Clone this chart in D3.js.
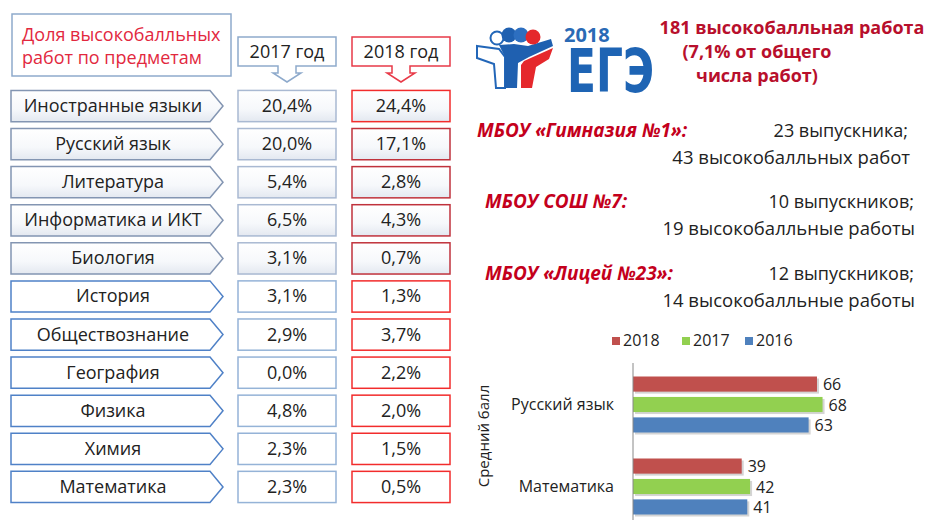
<!DOCTYPE html>
<html>
<head>
<meta charset="utf-8">
<script src="https://cdn.jsdelivr.net/npm/d3@7"></script>
<style>
  body { margin: 0; background: #fff; }
  svg { display: block; font-family: "Open Sans", sans-serif; }
</style>
</head>
<body>
<div id="chart"></div>
<script>
// Доля высокобалльных работ по предметам
const subjects = ["Иностранные языки", "Русский язык", "Литература", "Информатика и ИКТ", "Биология",
  "История", "Обществознание", "География", "Физика", "Химия", "Математика"];
const share2017 = [20.4, 20.0, 5.4, 6.5, 3.1, 3.1, 2.9, 0.0, 4.8, 2.3, 2.3];
const share2018 = [24.4, 17.1, 2.8, 4.3, 0.7, 1.3, 3.7, 2.2, 2.0, 1.5, 0.5];
const yearHeaders = ["2017 год", "2018 год"];

// школы
const schools = ["МБОУ «Гимназия №1»:", "МБОУ СОШ №7:", "МБОУ  «Лицей №23»:"];
const graduates = ["23 выпускника;", "10 выпускников;", "12 выпускников;"];
const works = ["43 высокобалльных работ", "19 высокобалльные работы", "14 высокобалльные работы"];

// средний балл
const scoreSubjects = ["Русский язык", "Математика"];
const scoreYears = ["2018", "2017", "2016"];
const scores2018 = [66, 39];
const scores2017 = [68, 42];
const scores2016 = [63, 41];

const ruLocale = d3.formatLocale({decimal: ",", thousands: " ", grouping: [3], currency: ["", ""]});
const pct = v => ruLocale.format(".1f")(v) + "%";

const svg = d3.select("#chart")
  .append("svg")
  .attr("width", 925)
  .attr("height", 520);

const defs = svg.append("defs");
const grad = defs.append("linearGradient").attr("id", "shade").attr("x1", 0).attr("y1", 0).attr("x2", 0).attr("y2", 1);
grad.append("stop").attr("offset", "0%").attr("stop-color", "#ffffff");
grad.append("stop").attr("offset", "60%").attr("stop-color", "#f6f8fb");
grad.append("stop").attr("offset", "100%").attr("stop-color", "#e3e8f0");

// ---------- левая таблица ----------
svg.append("rect")
  .attr("x", 12).attr("y", 14).attr("width", 219).attr("height", 62)
  .attr("fill", "#fff").attr("stroke", "#8eaacc").attr("stroke-width", 1.5);

svg.append("text")
  .attr("x", 22).attr("y", 41)
  .attr("fill", "#e2283e")
  .style("font-size", "18px")
  .text("Доля высокобалльных");
svg.append("text")
  .attr("x", 22).attr("y", 64)
  .attr("fill", "#e2283e")
  .style("font-size", "18px")
  .text("работ по предметам");

// заголовки годов с указателем вниз
const colX = d3.scalePoint().domain(yearHeaders).range([287, 401]);
const headerColors = {"2017 год": "#8eaacc", "2018 год": "#e83a48"};

yearHeaders.forEach(h => {
  const cx = colX(h);
  const top = 37, bot = 66, hw = 49;
  const p = d3.path();
  p.moveTo(cx - hw, top);
  p.lineTo(cx + hw, top);
  p.lineTo(cx + hw, bot);
  p.lineTo(cx + 9, bot);
  p.lineTo(cx + 9, 73);
  p.lineTo(cx + 14, 73);
  p.lineTo(cx, 82);
  p.lineTo(cx - 14, 73);
  p.lineTo(cx - 9, 73);
  p.lineTo(cx - 9, bot);
  p.lineTo(cx - hw, bot);
  p.closePath();
  svg.append("path")
    .attr("d", p.toString())
    .attr("fill", "#fff")
    .attr("stroke", headerColors[h])
    .attr("stroke-width", 1.5);
  svg.append("text")
    .attr("x", cx).attr("y", 58)
    .attr("text-anchor", "middle")
    .attr("fill", "#222")
    .style("font-size", "18px")
    .text(h);
});

const rowScale = d3.scaleBand()
  .domain(subjects)
  .range([87, 506])
  .paddingInner(0.18)
  .paddingOuter(0.09);

const rows = subjects.map((s, i) => ({subject: s, v17: share2017[i], v18: share2018[i], i: i}));

const rowG = svg.selectAll("g.row")
  .data(rows)
  .join("g")
  .attr("class", "row")
  .attr("transform", d => `translate(0, ${rowScale(d.subject)})`);

const bh = rowScale.bandwidth();

// стрелка-пятиугольник с названием предмета
rowG.append("path")
  .attr("d", `M11,0 L210,0 L223,${bh / 2} L210,${bh} L11,${bh} Z`)
  .attr("fill", d => d.i < 5 ? "url(#shade)" : "#fff")
  .attr("stroke", d => d.i < 5 ? "#8395b2" : "#4f81c7")
  .attr("stroke-width", 1.5);

rowG.append("text")
  .attr("x", 113)
  .attr("y", bh / 2 + 6)
  .attr("text-anchor", "middle")
  .attr("fill", "#222")
  .style("font-size", "18px")
  .text(d => d.subject);

rowG.append("rect")
  .attr("x", colX("2017 год") - 49).attr("y", 0)
  .attr("width", 98).attr("height", bh)
  .attr("fill", d => d.i < 5 ? "url(#shade)" : "#fff")
  .attr("stroke", d => d.i < 5 ? "#a9b9d2" : "#95b3d7")
  .attr("stroke-width", 1.5);

rowG.append("rect")
  .attr("x", colX("2018 год") - 49).attr("y", 0)
  .attr("width", 98).attr("height", bh)
  .attr("fill", d => d.i < 5 ? "url(#shade)" : "#fff")
  .attr("stroke", d => (d.i >= 1 && d.i < 5) ? "#c0323c" : "#f22c2c")
  .attr("stroke-width", 1.5);

rowG.append("text")
  .attr("x", colX("2017 год"))
  .attr("y", bh / 2 + 6)
  .attr("text-anchor", "middle")
  .attr("fill", "#222")
  .style("font-size", "18px")
  .text(d => pct(d.v17));

rowG.append("text")
  .attr("x", colX("2018 год"))
  .attr("y", bh / 2 + 6)
  .attr("text-anchor", "middle")
  .attr("fill", "#222")
  .style("font-size", "18px")
  .text(d => pct(d.v18));

// ---------- логотип ЕГЭ ----------
const logo = svg.append("g");
logo.append("path")
  .attr("d", "M477,46 L499,49 L505,57 L505,88 L496,88 L494,64 L477,58 Z")
  .attr("fill", "#fff").attr("stroke", "#2266b8").attr("stroke-width", 2);
logo.append("path")
  .attr("d", "M499,45 L514,44 L528,46 L551,39 L553,46 L529,57 L518,63 L517,88 L505,88 L505,57 Z")
  .attr("fill", "#1f60b0");
logo.append("path")
  .attr("d", "M524,61 L553,48 L549,59 L536,67 L532,88 L521,88 L521,65 Z")
  .attr("fill", "#e5282c");
logo.append("circle").attr("cx", 497).attr("cy", 38).attr("r", 6.5)
  .attr("fill", "#fff").attr("stroke", "#2266b8").attr("stroke-width", 2);
logo.append("circle").attr("cx", 509).attr("cy", 35).attr("r", 7.5).attr("fill", "#1f60b0");
logo.append("circle").attr("cx", 521).attr("cy", 35).attr("r", 7.5).attr("fill", "#2d6fc0");
logo.append("circle").attr("cx", 533).attr("cy", 37).attr("r", 7.5).attr("fill", "#e5282c");

logo.append("text")
  .attr("x", 564).attr("y", 42)
  .attr("fill", "#2a6ab5")
  .style("font-size", "20px").style("font-weight", "bold")
  .text("2018");
logo.append("text")
  .attr("x", 567).attr("y", 92)
  .attr("fill", "#1e64b4")
  .attr("textLength", 87).attr("lengthAdjust", "spacingAndGlyphs")
  .style("font-family", "'DejaVu Sans Condensed', sans-serif")
  .style("font-size", "60px").style("font-weight", "bold")
  .text("ЕГЭ");

// ---------- итог ----------
const summary = ["181 высокобалльная работа", "(7,1% от общего", "числа работ)"];
const summaryX = [792, 757, 757];
const summaryY = [34, 58, 82];
svg.selectAll("text.summary")
  .data(summary)
  .join("text")
  .attr("class", "summary")
  .attr("x", (d, i) => summaryX[i])
  .attr("y", (d, i) => summaryY[i])
  .attr("text-anchor", "middle")
  .attr("fill", "#b80f2c")
  .style("font-size", "18px").style("font-weight", "bold")
  .text(d => d);

// ---------- школы ----------
const schoolY = d3.scaleBand().domain(schools).range([112, 320]);
const schoolG = svg.selectAll("g.school")
  .data(schools.map((s, i) => ({name: s, grad: graduates[i], works: works[i], i: i})))
  .join("g")
  .attr("class", "school")
  .attr("transform", d => `translate(0, ${schoolY(d.name)})`);

schoolG.append("text")
  .attr("x", d => d.i === 0 ? 477 : 485)
  .attr("y", d => 25 + d.i * 2)
  .attr("fill", "#c4001c")
  .style("font-size", "19px").style("font-weight", "bold").style("font-style", "italic")
  .text(d => d.name);

schoolG.append("text")
  .attr("x", d => d.i === 0 ? 908 : 914)
  .attr("y", d => 25 + d.i * 2)
  .attr("text-anchor", "end")
  .attr("fill", "#222")
  .style("font-size", "18px")
  .text(d => d.grad);

schoolG.append("text")
  .attr("x", d => d.i === 0 ? 910 : 915)
  .attr("y", d => 52 + d.i * 2)
  .attr("text-anchor", "end")
  .attr("fill", "#222")
  .style("font-size", "18.5px")
  .text(d => d.works);

// ---------- средний балл ----------
const scoreColors = {"2018": "#c0504d", "2017": "#92d050", "2016": "#4f81bd"};
const scoreValues = {"2018": scores2018, "2017": scores2017, "2016": scores2016};

const legendX = d3.scaleOrdinal().domain(scoreYears).range([612, 682, 745]);
const legend = svg.selectAll("g.legend")
  .data(scoreYears)
  .join("g")
  .attr("class", "legend")
  .attr("transform", d => `translate(${legendX(d)}, 337)`);
legend.append("rect").attr("width", 8).attr("height", 8).attr("fill", d => scoreColors[d]);
legend.append("text").attr("x", 11).attr("y", 9)
  .attr("fill", "#222").style("font-size", "16px").text(d => d);

const xScale = d3.scaleLinear().domain([0, 80]).range([633, 856]);
const yScale = d3.scaleBand().domain(scoreSubjects).range([363, 527]);
const yInner = d3.scaleBand().domain(scoreYears).range([13.5, 69.5]).paddingInner(0.26);

const bars = [];
scoreSubjects.forEach((s, i) => {
  scoreYears.forEach(y => bars.push({subject: s, year: y, value: scoreValues[y][i]}));
});

const barG = svg.selectAll("g.bar")
  .data(bars)
  .join("g")
  .attr("class", "bar")
  .attr("transform", d => `translate(0, ${yScale(d.subject) + yInner(d.year)})`);

barG.append("rect")
  .attr("x", xScale(0) + 2).attr("y", 2)
  .attr("width", d => xScale(d.value) - xScale(0))
  .attr("height", yInner.bandwidth())
  .attr("fill", "#d4d4d4");

barG.append("rect")
  .attr("x", xScale(0)).attr("y", 0)
  .attr("width", d => xScale(d.value) - xScale(0))
  .attr("height", yInner.bandwidth())
  .attr("fill", d => scoreColors[d.year]);

barG.append("text")
  .attr("x", d => xScale(d.value) + 6)
  .attr("y", yInner.bandwidth() / 2 + 6)
  .attr("fill", "#222")
  .style("font-size", "16px")
  .text(d => d.value);

svg.append("line")
  .attr("x1", xScale(0)).attr("x2", xScale(0))
  .attr("y1", 363).attr("y2", 520)
  .attr("stroke", "#888").attr("stroke-width", 1);

svg.selectAll("text.cat")
  .data(scoreSubjects)
  .join("text")
  .attr("class", "cat")
  .attr("x", 614)
  .attr("y", d => yScale(d) + yScale.bandwidth() / 2 + 6)
  .attr("text-anchor", "end")
  .attr("fill", "#222")
  .style("font-size", "16px")
  .text(d => d);

svg.append("text")
  .attr("transform", "translate(489, 436) rotate(-90)")
  .attr("text-anchor", "middle")
  .attr("fill", "#222")
  .style("font-size", "15px")
  .text("Средний балл");
</script>
</body>
</html>
